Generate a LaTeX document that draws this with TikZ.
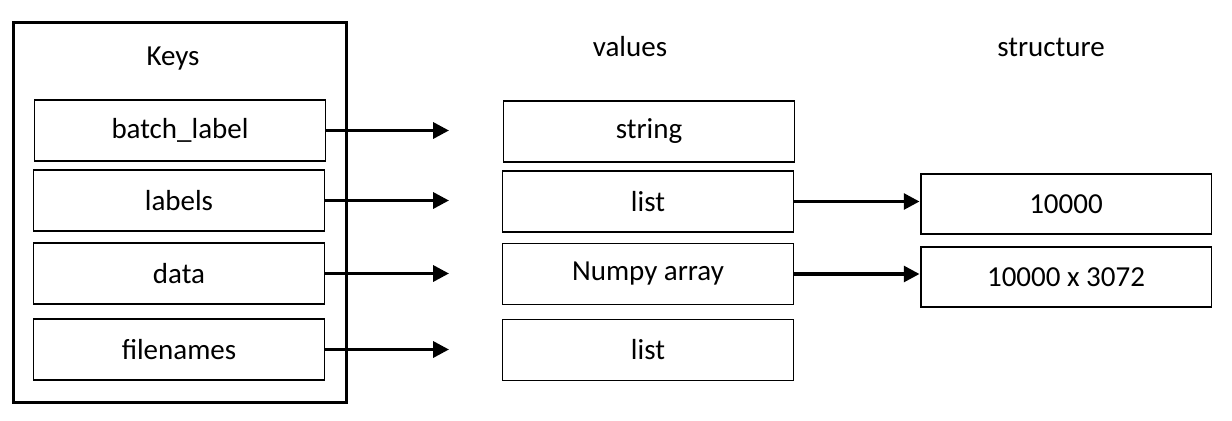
\documentclass[tikz,border=0pt]{standalone}
\usepackage{fontspec}
\setmainfont{Carlito}
\usetikzlibrary{arrows.meta}
\tikzset{>={Triangle[length=9pt,width=9pt]}}
\tikzset{
  box/.style={draw, line width=1.1pt, minimum width=5.82cm, minimum height=1.22cm, inner sep=0pt},
  link/.style={->, line width=2pt},
}

\begin{document}
\begin{tikzpicture}[x=0.02cm, y=-0.02cm, font=\fontsize{16.5}{20}\selectfont]
	\useasboundingbox (0,0) rectangle (1232,420);
	% keys column
	\node[draw, line width=1.7pt, minimum width=6.68cm, minimum height=7.62cm] (frame) at (180,212.5) {};
	\node (keys) at (173,59) {Keys};
	\node[box] (k1) at (180,130.5) {batch\_label};
	\node[box] (k2) at (179,200.5) {labels};
	\node[box] (k3) at (179,273.5) {data};
	\node[box] (k4) at (179,349.5) {filenames};
	% values column
	\node (values) at (630,47) {values};
	\node[box] (v1) at (649,131.5) {string};
	\node[box] (v2) at (648,201.5) {list};
	\node[box] (v3) at (648,274) {Numpy array};
	\node[box] (v4) at (648,350) {list};
	% structure column
	\node (struct) at (1051,47) {structure};
	\node[box, minimum height=1.2cm] (s1) at (1066,204) {10000};
	\node[box, minimum height=1.2cm] (s2) at (1066,277) {10000 x 3072};
	% arrows
	\foreach \i in {1,...,4}
		\coordinate (t\i) at (k\i.east -| 449,0);
	\foreach \i in {1,...,4}
		\draw[link] (k\i.east) -- (t\i);
	\draw[link] (v2.east) -- (v2.east -| s1.west);
	\draw[link] (v3.east) -- (v3.east -| s2.west);
\end{tikzpicture}
\end{document}
